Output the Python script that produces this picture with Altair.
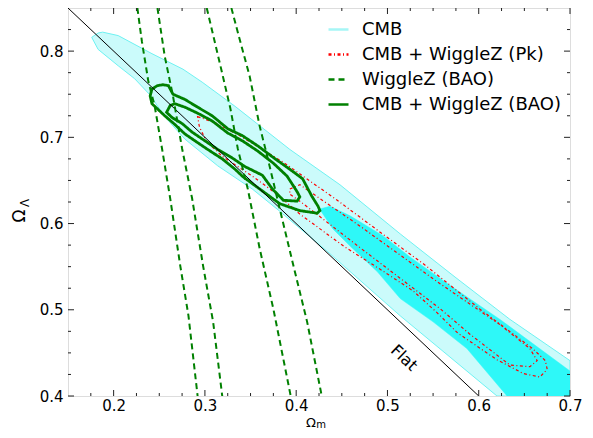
import altair as alt
import pandas as pd

# ---------------- data ----------------
SERIES = ["CMB", "CMB + WiggleZ (Pk)", "WiggleZ (BAO)", "CMB + WiggleZ (BAO)"]

# CMB 2-sigma region (light cyan)
CMB2_OM = [0.176, 0.183, 0.188, 0.205, 0.242, 0.276, 0.297, 0.333, 0.369, 0.393, 0.448, 0.514,
           0.574, 0.634, 0.700, 0.700, 0.620, 0.514, 0.437, 0.380, 0.352, 0.314, 0.278, 0.256,
           0.240, 0.223, 0.205, 0.183]
CMB2_OL = [0.816, 0.821, 0.822, 0.818, 0.797, 0.779, 0.764, 0.736, 0.706, 0.686, 0.645, 0.588,
           0.538, 0.489, 0.441, 0.400, 0.400, 0.493, 0.565, 0.616, 0.640, 0.667, 0.698, 0.724,
           0.749, 0.768, 0.783, 0.802]
# CMB 1-sigma region (bright cyan)
CMB1_OM = [0.426, 0.437, 0.459, 0.495, 0.525, 0.569, 0.623, 0.700, 0.700, 0.631, 0.587, 0.550,
           0.514, 0.489, 0.459, 0.440, 0.428]
CMB1_OL = [0.617, 0.620, 0.609, 0.586, 0.561, 0.528, 0.489, 0.429, 0.400, 0.400, 0.455, 0.486,
           0.513, 0.544, 0.574, 0.594, 0.613]

# CMB + WiggleZ (Pk) contours
PK2_OM = [0.292, 0.311, 0.338, 0.386, 0.445, 0.492, 0.541, 0.601, 0.659, 0.673, 0.675, 0.667,
          0.649, 0.620, 0.577, 0.554, 0.528, 0.492, 0.453, 0.404, 0.379, 0.352, 0.319, 0.302, 0.294]
PK2_OL = [0.724, 0.717, 0.702, 0.671, 0.627, 0.590, 0.552, 0.501, 0.455, 0.441, 0.431, 0.422,
          0.426, 0.442, 0.473, 0.497, 0.522, 0.547, 0.573, 0.611, 0.634, 0.655, 0.678, 0.695, 0.712]
PK1_OM = [0.393, 0.404, 0.470, 0.558, 0.623, 0.656, 0.664, 0.656, 0.634, 0.590, 0.558, 0.470,
          0.404, 0.393]
PK1_OL = [0.640, 0.645, 0.597, 0.530, 0.483, 0.455, 0.441, 0.434, 0.436, 0.472, 0.501, 0.572,
          0.626, 0.634]

# WiggleZ (BAO) contours (four near-vertical dashed curves)
BAO_A_OM = [0.226, 0.231, 0.238, 0.245, 0.253, 0.262, 0.273, 0.282, 0.292]
BAO_A_OL = [0.850, 0.811, 0.765, 0.736, 0.687, 0.629, 0.551, 0.493, 0.400]
BAO_B_OM = [0.248, 0.256, 0.265, 0.275, 0.286, 0.298, 0.309, 0.319]
BAO_B_OL = [0.850, 0.794, 0.748, 0.687, 0.629, 0.551, 0.486, 0.400]
BAO_C_OM = [0.302, 0.317, 0.328, 0.336, 0.347, 0.360, 0.375, 0.394]
BAO_C_OL = [0.850, 0.783, 0.733, 0.687, 0.640, 0.571, 0.501, 0.400]
BAO_D_OM = [0.329, 0.338, 0.349, 0.360, 0.369, 0.382, 0.397, 0.412, 0.428]
BAO_D_OL = [0.850, 0.814, 0.771, 0.713, 0.675, 0.617, 0.551, 0.486, 0.400]

# CMB + WiggleZ (BAO) contours
CB2_OM = [0.242, 0.248, 0.254, 0.260, 0.263, 0.265, 0.278, 0.292, 0.308, 0.325, 0.341, 0.358,
          0.377, 0.393, 0.407, 0.417, 0.424, 0.426, 0.423, 0.404, 0.382, 0.364, 0.342, 0.333,
          0.319, 0.303, 0.289, 0.278, 0.267, 0.256, 0.248, 0.242, 0.240]
CB2_OL = [0.756, 0.760, 0.761, 0.760, 0.754, 0.750, 0.744, 0.735, 0.725, 0.710, 0.702, 0.690,
          0.675, 0.663, 0.652, 0.632, 0.620, 0.615, 0.612, 0.615, 0.623, 0.637, 0.654, 0.663,
          0.675, 0.686, 0.696, 0.704, 0.715, 0.725, 0.733, 0.739, 0.748]
CB1_OM = [0.260, 0.262, 0.267, 0.278, 0.292, 0.308, 0.325, 0.341, 0.358, 0.375, 0.390, 0.401,
          0.404, 0.401, 0.386, 0.374, 0.363, 0.344, 0.330, 0.314, 0.300, 0.286, 0.275, 0.264, 0.258]
CB1_OL = [0.733, 0.737, 0.739, 0.735, 0.728, 0.719, 0.705, 0.696, 0.684, 0.670, 0.655, 0.637,
          0.631, 0.626, 0.627, 0.640, 0.656, 0.666, 0.676, 0.686, 0.696, 0.706, 0.716, 0.723, 0.729]

# flat universe line and its label
FLAT_OM = [0.15, 0.60]
FLAT_OL = [0.85, 0.40]
FLAT_LABEL = ["Flat"]
FLAT_LABEL_OM = [0.518]
FLAT_LABEL_OL = [0.444]

# ticks
X_MAJOR = [0.2, 0.3, 0.4, 0.5, 0.6, 0.7]
X_MINOR = [0.175, 0.225, 0.25, 0.275, 0.325, 0.35, 0.375, 0.425, 0.45, 0.475,
           0.525, 0.55, 0.575, 0.625, 0.65, 0.675]
Y_MAJOR = [0.4, 0.5, 0.6, 0.7, 0.8]
Y_MINOR = [0.425, 0.45, 0.475, 0.525, 0.55, 0.575, 0.625, 0.65, 0.675,
           0.725, 0.75, 0.775, 0.825]

# ---------------- styling ----------------
W, H = 502, 388
FONT = "DejaVu Sans"
XS = alt.Scale(domain=[0.15, 0.7], nice=False, zero=False)
YS = alt.Scale(domain=[0.4, 0.85], nice=False, zero=False)
COLORS = ["#a6f6f6", "#ff0000", "#008000", "#008000"]
DASHES = [[1, 0], [3, 2.5, 1, 2.5], [6, 4], [1, 0]]


def poly(oms, ols):
    return pd.DataFrame({"om": oms, "ol": ols, "i": list(range(len(oms)))})


def rows(series, group, oms, ols, w):
    return pd.DataFrame({"series": series, "group": group, "om": oms, "ol": ols,
                         "i": list(range(len(oms))), "w": w})


loops = pd.concat([
    rows(SERIES[1], "pk2", PK2_OM, PK2_OL, 1.2),
    rows(SERIES[1], "pk1", PK1_OM, PK1_OL, 1.2),
    rows(SERIES[3], "cb2", CB2_OM, CB2_OL, 2.8),
    rows(SERIES[3], "cb1", CB1_OM, CB1_OL, 2.8),
])
bao = pd.concat([
    rows(SERIES[2], "a", BAO_A_OM, BAO_A_OL, 2.0),
    rows(SERIES[2], "b", BAO_B_OM, BAO_B_OL, 2.0),
    rows(SERIES[2], "c", BAO_C_OM, BAO_C_OL, 2.0),
    rows(SERIES[2], "d", BAO_D_OM, BAO_D_OL, 2.0),
])

x_axis = alt.Axis(values=X_MAJOR, format=".1f", ticks=False, domain=False, grid=False,
                  labelFontSize=15, labelPadding=2, labelFont=FONT, labelColor="black",
                  labelFlush=False, labelOverlap=False, title=None, orient="bottom")
y_axis = alt.Axis(values=Y_MAJOR, format=".1f", ticks=False, domain=False, grid=False,
                  labelFontSize=15, labelPadding=5, labelFont=FONT, labelColor="black",
                  labelFlush=False, labelOverlap=False, title=None, orient="left")


def X(field="om"):
    return alt.X(f"{field}:Q", scale=XS)


def Y(field="ol"):
    return alt.Y(f"{field}:Q", scale=YS)


light = alt.Chart(poly(CMB2_OM, CMB2_OL)).mark_line(
    interpolate="linear-closed", fill="#cbfbfb", stroke="#6ef2f2", strokeWidth=1, clip=True
).encode(x=alt.X("om:Q", scale=XS, axis=x_axis), y=alt.Y("ol:Q", scale=YS, axis=y_axis),
         order="i:Q")

bright = alt.Chart(poly(CMB1_OM, CMB1_OL)).mark_line(
    interpolate="linear-closed", fill="#2ef8f8", stroke="#2ef8f8", strokeWidth=0.5, clip=True
).encode(x=X(), y=Y(), order="i:Q")

flat = alt.Chart(pd.DataFrame({"om": FLAT_OM, "ol": FLAT_OL})).mark_line(
    color="black", strokeWidth=1, clip=True
).encode(x=X(), y=Y())

LEG = dict(orient="none", legendX=259, legendY=10, symbolType="stroke", symbolSize=400,
           symbolStrokeWidth=2.5, labelFontSize=18, labelFont=FONT, labelColor="black",
           labelOffset=12, rowPadding=4, padding=0, title=None, labelLimit=400)


def color_enc():
    return alt.Color("series:N", scale=alt.Scale(domain=SERIES, range=COLORS),
                     legend=alt.Legend(**LEG))


def dash_enc():
    return alt.StrokeDash("series:N", scale=alt.Scale(domain=SERIES, range=DASHES),
                          legend=alt.Legend(**LEG))


loop_layer = alt.Chart(loops).mark_line(interpolate="linear-closed", clip=True).encode(
    x=X(), y=Y(), detail="group:N", order="i:Q", color=color_enc(), strokeDash=dash_enc(),
    strokeWidth=alt.StrokeWidth("w:Q", scale=None))

bao_layer = alt.Chart(bao).mark_line(clip=True).encode(
    x=X(), y=Y(), detail="group:N", order="i:Q", color=color_enc(), strokeDash=dash_enc(),
    strokeWidth=alt.StrokeWidth("w:Q", scale=None))

flat_text = alt.Chart(pd.DataFrame({"om": FLAT_LABEL_OM, "ol": FLAT_LABEL_OL, "t": FLAT_LABEL})).mark_text(
    angle=43.4, fontSize=16, font=FONT, color="black", align="center", baseline="middle"
).encode(x=X(), y=Y(), text="t:N")


def tick_layer(vals, side, length):
    df = pd.DataFrame({"v": vals})
    m = alt.Chart(df).mark_rule(color="#222222", strokeWidth=1)
    if side == "bottom":
        return m.encode(x=X("v"), y=alt.value(H), y2=alt.value(H - length))
    if side == "top":
        return m.encode(x=X("v"), y=alt.value(0), y2=alt.value(length))
    if side == "left":
        return m.encode(y=Y("v"), x=alt.value(0), x2=alt.value(length))
    return m.encode(y=Y("v"), x=alt.value(W), x2=alt.value(W - length))


ticks = []
for side in ["bottom", "top"]:
    ticks.append(tick_layer(X_MAJOR, side, 6))
    ticks.append(tick_layer(X_MINOR, side, 3))
for side in ["left", "right"]:
    ticks.append(tick_layer(Y_MAJOR, side, 6))
    ticks.append(tick_layer(Y_MINOR, side, 3))


def label(text, x, y, size, angle=0):
    return alt.Chart(pd.DataFrame({"t": [text]})).mark_text(
        fontSize=size, font=FONT, color="black", align="center", baseline="middle", angle=angle
    ).encode(x=alt.value(x), y=alt.value(y), text="t:N")


titles = [
    label("Ω", 243, 414.5, 13),
    label("m", 253, 416.5, 10),
    label("Ω", -48, 208, 17, 270),
    label("Λ", -43, 195, 12, 270),
]

chart = alt.layer(light, bright, loop_layer, flat, bao_layer, flat_text, *ticks, *titles).properties(
    width=W, height=H,
    padding={"left": 60, "top": 0, "right": 15, "bottom": 34},
    autosize=alt.AutoSizeParams(type="none"),
).configure_view(stroke="#222222", strokeWidth=1).configure(background="white")

chart.save("out.html", embed_options={"renderer": "svg", "actions": False})
